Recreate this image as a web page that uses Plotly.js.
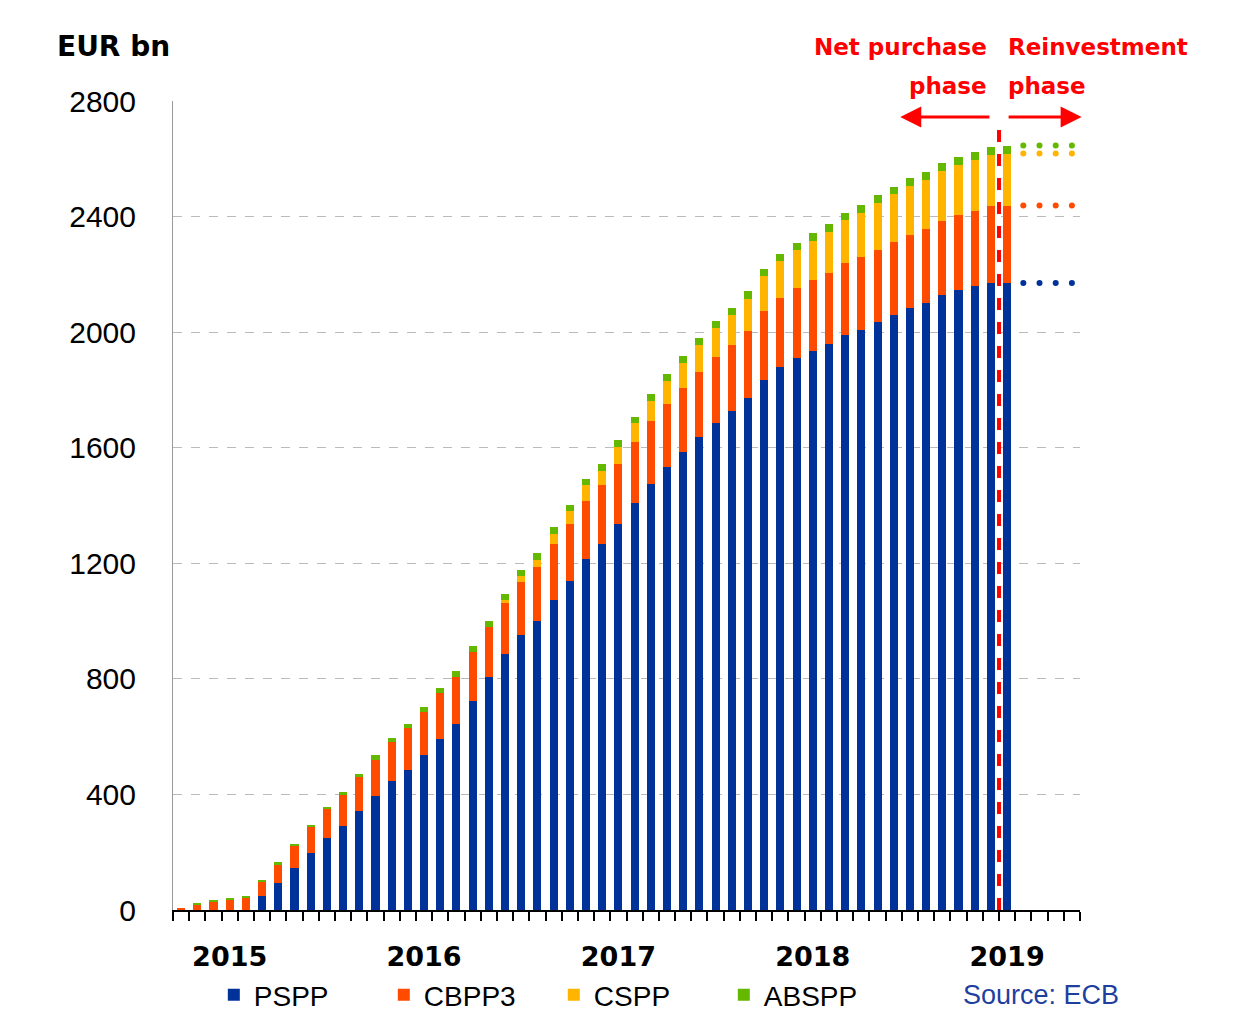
<!DOCTYPE html>
<html>
<head>
<meta charset="utf-8">
<script src="https://cdn.plot.ly/plotly-3.0.1.min.js"></script>
<style>body{margin:0;background:#fff}#chart{width:1237px;height:1035px}</style>
</head>
<body>
<div id="chart"></div>
<script>
// months Oct 2014 .. Jan 2019 (52 bars), axis runs to May 2019
const months = [];
for (let i = 0; i < 56; i++) {
    const m = (9 + i) % 12, y = 2014 + Math.floor((9 + i) / 12);
    months.push(y + '-' + String(m + 1).padStart(2, '0'));
}
const barMonths = months.slice(0, 52);
const emptyMonths = months.slice(52);

const pspp = [0, 0, 0, 0, 0, 47, 95, 147, 198, 249, 290, 343, 395, 447, 486, 537, 593, 645, 725, 806,
    885, 951, 1000, 1074, 1140, 1216, 1266, 1336, 1408, 1476, 1532, 1585, 1636, 1686, 1726, 1771, 1834, 1878,
    1912, 1935, 1958, 1990, 2009, 2034, 2059, 2082, 2102, 2128, 2145, 2160, 2171, 2170];
const cbpp3 = [5, 20, 30, 38, 44, 52, 64, 75, 90, 101, 107, 116, 125, 135, 143, 150, 157, 163, 169, 175,
    179, 185, 187, 192, 196, 201, 204, 208, 212, 216, 220, 223, 226, 228, 230, 232, 238, 240, 242, 244, 246,
    248, 250, 252, 254, 255, 256, 258, 260, 261, 265, 268];
const cspp = [0, 0, 0, 0, 0, 0, 0, 0, 0, 0, 0, 0, 0, 0, 0, 0, 0, 0, 0, 0, 10, 20, 26, 37, 45, 53, 51, 59,
    65, 71, 79, 86, 95, 101, 104, 113, 121, 127, 131, 137, 143, 149, 154, 160, 164, 168, 169, 171, 173, 175,
    178, 180];
const abspp = [0, 1, 2, 3, 4, 6, 6, 6, 7, 8, 10, 13, 15, 15, 15, 17, 18, 19, 19, 19, 20, 20, 21, 22, 22,
    22, 23, 23, 23, 24, 24, 24, 24, 25, 25, 25, 25, 25, 25, 26, 26, 27, 27, 27, 27, 27, 27, 28, 28, 28, 28, 28];
const yearLabels = ['2015', '2016', '2017', '2018', '2019'];
const yearMonths = ['2015-01', '2016-01', '2017-01', '2018-01', '2019-01'];

const idx = ms => ms.map(m => months.indexOf(m));
const xb = idx(barMonths), xe = idx(emptyMonths);
const colors = {PSPP: '#003299', CBPP3: '#FF4B00', CSPP: '#FFB400', ABSPP: '#65B800'};
const series = [['PSPP', pspp], ['CBPP3', cbpp3], ['CSPP', cspp], ['ABSPP', abspp]];

const data = series.map(([name, vals]) => ({
    type: 'bar', name: name, x: xb, y: vals, width: 0.5,
    marker: {color: colors[name], line: {width: 0}}
}));

// dotted continuation in the reinvestment phase
let cum = 0;
series.forEach(([name, vals]) => {
    cum += vals[vals.length - 1];
    data.push({
        type: 'scatter', mode: 'markers', x: xe, y: xe.map(() => cum), showlegend: false,
        marker: {color: colors[name], size: 6}, hoverinfo: 'skip'
    });
});

const switchX = months.indexOf('2019-01') - 0.5;
const red = '#FF0000';
const redFont = {size: 23, color: red, family: 'DejaVu Sans'};
const layout = {
    barmode: 'stack',
    bargap: 0,
    paper_bgcolor: '#fff', plot_bgcolor: '#fff',
    margin: {l: 173, r: 157, t: 101, b: 125},
    font: {family: 'Liberation Sans, Arial, sans-serif', color: '#000'},
    xaxis: {
        range: [-0.5, 55.5], tickmode: 'array', tickvals: idx(yearMonths), ticktext: yearLabels,
        ticks: '', tickfont: {size: 27, family: 'DejaVu Sans', weight: 'bold'}, ticklabelstandoff: 22,
        showline: true, linecolor: '#000', linewidth: 2, showgrid: false, zeroline: false,
        minor: {tick0: -0.5, dtick: 1, ticks: 'outside', ticklen: 9, tickwidth: 2, tickcolor: '#000', showgrid: false}
    },
    yaxis: {
        range: [0, 2800], dtick: 400, tickfont: {size: 30}, ticks: '', ticklabelstandoff: 30,
        showline: true, linecolor: '#999', linewidth: 1, gridcolor: '#bbb', griddash: 'dash', zeroline: false
    },
    showlegend: true,
    legend: {
        orientation: 'h', x: 0.045, y: -0.105, xanchor: 'left', yanchor: 'middle',
        font: {size: 28}, traceorder: 'normal', entrywidth: 125, itemwidth: 30
    },
    shapes: [{
        type: 'line', xref: 'x', yref: 'y', x0: switchX, x1: switchX, y0: 0, y1: 2730,
        line: {color: red, width: 4, dash: 'dash'}
    }],
    annotations: [
        {xref: 'paper', yref: 'paper', x: -0.13, y: 1.067, xanchor: 'left', yanchor: 'middle', showarrow: false,
            text: '<b>EUR bn</b>', font: {size: 28, family: 'DejaVu Sans'}},
        {xref: 'x', yref: 'paper', x: switchX - 0.6, y: 1.067, xanchor: 'right', yanchor: 'middle',
            showarrow: false, text: '<b>Net purchase</b>', font: redFont},
        {xref: 'x', yref: 'paper', x: switchX - 0.6, y: 1.018, xanchor: 'right', yanchor: 'middle',
            showarrow: false, text: '<b>phase</b>', font: redFont},
        {xref: 'x', yref: 'paper', x: switchX + 0.4, y: 1.067, xanchor: 'left', yanchor: 'middle',
            showarrow: false, text: '<b>Reinvestment</b>', font: redFont},
        {xref: 'x', yref: 'paper', x: switchX + 0.4, y: 1.018, xanchor: 'left', yanchor: 'middle',
            showarrow: false, text: '<b>phase</b>', font: redFont},
        {xref: 'x', yref: 'y', axref: 'x', ayref: 'y', x: 44.4, y: 2745, ax: switchX - 0.5, ay: 2745,
            text: '', showarrow: true, arrowhead: 2, arrowsize: 1.4, arrowwidth: 3, arrowcolor: red},
        {xref: 'x', yref: 'y', axref: 'x', ayref: 'y', x: 55.6, y: 2745, ax: switchX + 0.5, ay: 2745,
            text: '', showarrow: true, arrowhead: 2, arrowsize: 1.4, arrowwidth: 3, arrowcolor: red},
        {xref: 'paper', yref: 'paper', x: 1.045, y: -0.105, xanchor: 'right', yanchor: 'middle', showarrow: false,
            text: 'Source: ECB', font: {size: 27, color: '#1F3F9F'}}
    ]
};

Plotly.newPlot('chart', data, layout, {displayModeBar: false});
</script>
</body>
</html>
